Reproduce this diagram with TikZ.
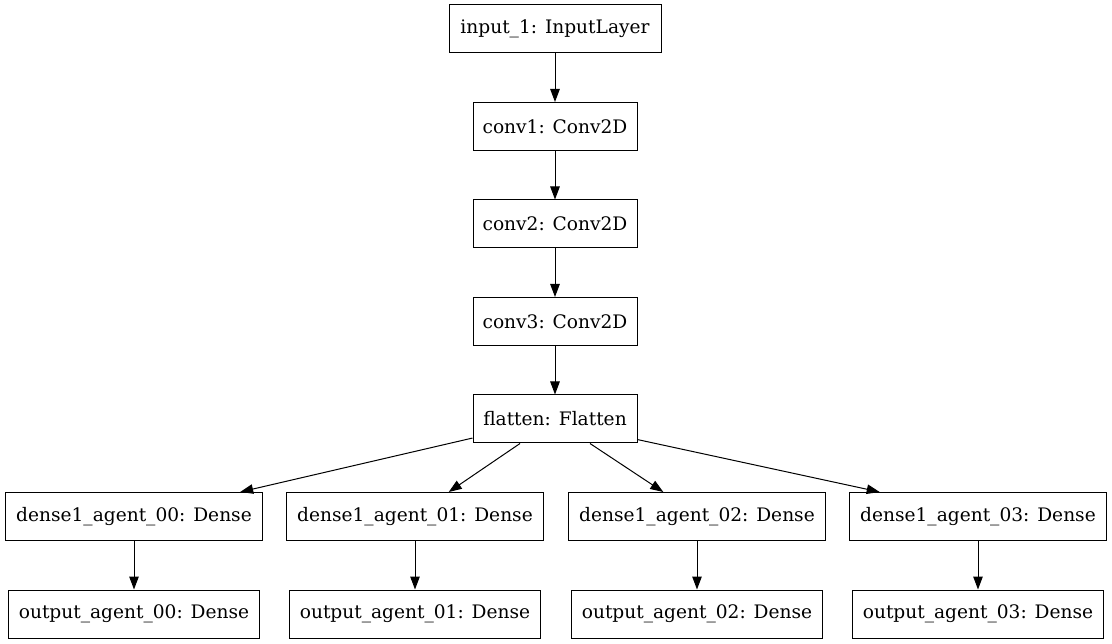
\documentclass[tikz,border=0pt]{standalone}
\usepackage{fontspec}
\setmainfont{DejaVu Serif}
\usetikzlibrary{arrows.meta}
\begin{document}
\begin{tikzpicture}[x=1pt, y=1pt, node distance=97.5pt, line width=1pt,
		layer/.style={draw, inner sep=0pt, minimum height=48pt, font=\fontsize{18.6}{22}\selectfont},
		>={Triangle[length=13pt, width=9.5pt]}]
		\useasboundingbox (0,0) rectangle (1112,-644);
		\node[layer, minimum width=212pt] (inp) at (555,-29) {input\_1: InputLayer};
		\node[layer, minimum width=164pt, below of = inp] (conv1) {conv1: Conv2D};
		\node[layer, minimum width=164pt, below of = conv1] (conv2) {conv2: Conv2D};
		\node[layer, minimum width=164pt, below of = conv2] (conv3) {conv3: Conv2D};
		\node[layer, minimum width=164pt, below of = conv3] (flat) {flatten: Flatten};
		\node[layer, minimum width=257pt] (dense0) at (134,-516.5) {dense1\_agent\_00: Dense};
		\node[layer, minimum width=257pt] (dense1) at (415,-516.5) {dense1\_agent\_01: Dense};
		\node[layer, minimum width=257pt] (dense2) at (697,-516.5) {dense1\_agent\_02: Dense};
		\node[layer, minimum width=257pt] (dense3) at (978,-516.5) {dense1\_agent\_03: Dense};
		\node[layer, minimum width=251pt, below of = dense0] (out0) {output\_agent\_00: Dense};
		\node[layer, minimum width=251pt, below of = dense1] (out1) {output\_agent\_01: Dense};
		\node[layer, minimum width=251pt, below of = dense2] (out2) {output\_agent\_02: Dense};
		\node[layer, minimum width=251pt, below of = dense3] (out3) {output\_agent\_03: Dense};
		\draw (inp) edge[->] (conv1);
		\draw (conv1) edge[->] (conv2);
		\draw (conv2) edge[->] (conv3);
		\draw (conv3) edge[->] (flat);
		\draw (flat.193.7) edge[->] (dense0.13.5);
		\draw (flat.215.8) edge[->] (dense1.36);
		\draw (flat.325.6) edge[->] (dense2.144.8);
		\draw (flat.346.3) edge[->] (dense3.166.6);
		\draw (dense0) edge[->] (out0);
		\draw (dense1) edge[->] (out1);
		\draw (dense2) edge[->] (out2);
		\draw (dense3) edge[->] (out3);
	\end{tikzpicture}
\end{document}
